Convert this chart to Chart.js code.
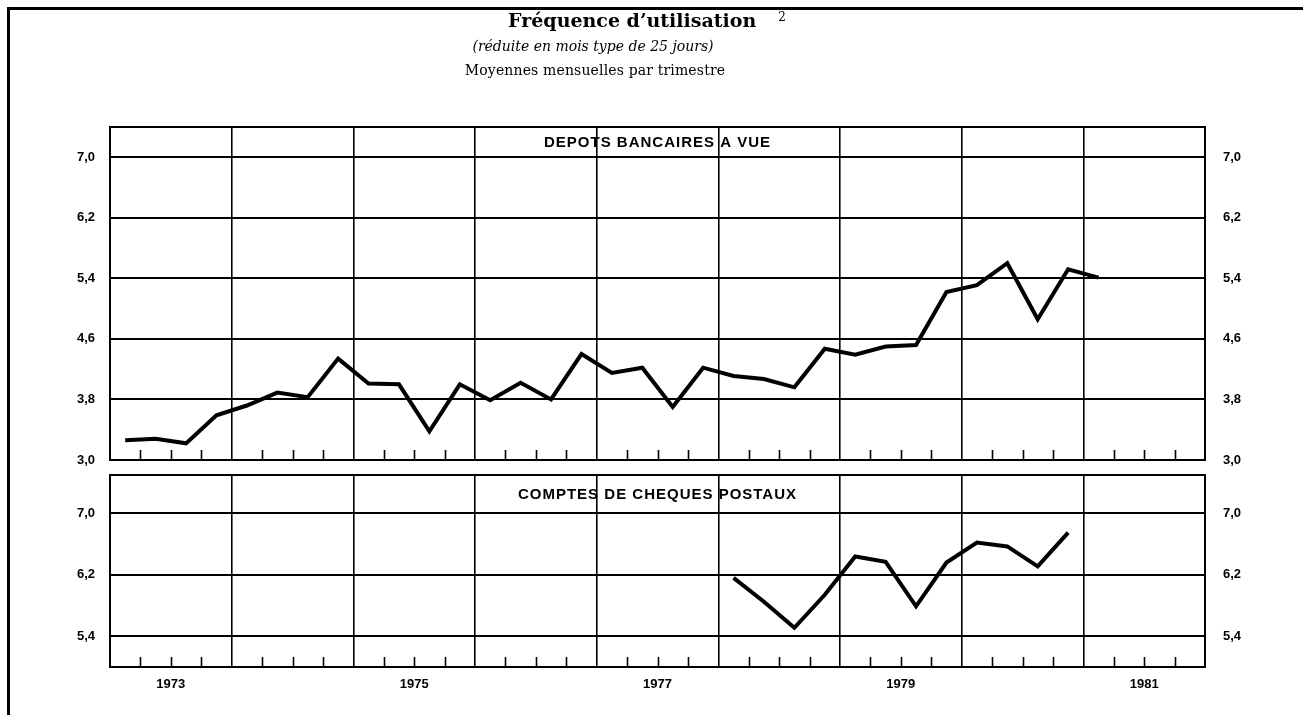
<!DOCTYPE html>
<html>
<head>
<meta charset="utf-8">
<script src="https://cdn.jsdelivr.net/npm/chart.js@4.4.0/dist/chart.umd.min.js"></script>
<style>
  body { margin: 0; background: #fff; }
  #page { position: relative; width: 1303px; height: 715px; overflow: hidden; background: #fff; }
  .cadre { position: absolute; left: 7px; top: 7px; width: 1320px; height: 730px;
           border-top: 3px solid #000; border-left: 3px solid #000; }
  canvas { position: absolute; left: 0; }
  .t { position: absolute; white-space: nowrap; color: #000; font-family: "DejaVu Serif", serif;
       transform: translateX(-50%); }
  #titre { left: 647px; top: 9px; font-size: 19px; font-weight: bold; }
  #titre sup { font-size: 12px; font-weight: normal; margin-left: 22px; position: relative; top: 1px; }
  #sous1 { left: 593px; top: 38px; font-size: 14px; font-style: italic; }
  #sous2 { left: 595px; top: 62px; font-size: 14px; letter-spacing: 0.15px; }
</style>
</head>
<body>
<div id="page">
  <div class="cadre"></div>
  <canvas id="depots" width="1303" height="470" style="top:0"></canvas>
  <canvas id="cheques" width="1303" height="245" style="top:470px"></canvas>
  <div class="t" id="titre">Fréquence d’utilisation<sup>2</sup></div>
  <div class="t" id="sous1">(réduite en mois type de 25 jours)</div>
  <div class="t" id="sous2">Moyennes mensuelles par trimestre</div>
</div>
<script>
// data, one value per quarter (4 per year), 1973 Q1 .. 1981 Q4
const annees = [1973, 1974, 1975, 1976, 1977, 1978, 1979, 1980, 1981];
const anneesAffichees = ['1973', '1975', '1977', '1979', '1981'];

const depotsBancaires = [
    3.26, 3.28, 3.22, 3.59,
    3.72, 3.89, 3.83, 4.34,
    4.01, 4.00, 3.38, 4.00,
    3.79, 4.02, 3.80, 4.40,
    4.15, 4.22, 3.70, 4.22,
    4.11, 4.07, 3.96, 4.47,
    4.39, 4.50, 4.52, 5.22,
    5.31, 5.60, 4.86, 5.52,
    5.41, null, null, null
];

const chequesPostaux = [
    null, null, null, null,
    null, null, null, null,
    null, null, null, null,
    null, null, null, null,
    null, null, null, null,
    6.16, 5.85, 5.51, 5.94,
    6.44, 6.37, 5.79, 6.36,
    6.62, 6.57, 6.31, 6.75,
    null, null, null, null
];

const graduationsDepots = [3.0, 3.8, 4.6, 5.4, 6.2, 7.0];
const graduationsCheques = [5.4, 6.2, 7.0];

const nbTrimestres = annees.length * 4;
const tickFont = { family: 'Liberation Sans', size: 13, weight: 'bold' };

// frame, quarter marks and panel name
const panneau = {
    id: 'panneau',
    afterDatasetsDraw(chart, args, opts) {
        const { ctx, chartArea: a, scales } = chart;
        ctx.save();
        ctx.strokeStyle = '#000';
        ctx.lineWidth = 1.6;
        for (let k = 1; k < nbTrimestres; k++) {
            if (k % 4 === 0) continue;
            const x = Math.round(scales.x.getPixelForValue(k)) + 0.5;
            ctx.beginPath();
            ctx.moveTo(x, a.bottom);
            ctx.lineTo(x, a.bottom - 10);
            ctx.stroke();
        }
        ctx.lineWidth = 2;
        ctx.strokeRect(a.left, a.top, a.right - a.left, a.bottom - a.top);

        const yLab = (a.top + scales.y.getPixelForValue(7.0)) / 2 + 1;
        ctx.fillStyle = '#000';
        ctx.font = 'bold 15px "Liberation Sans"';
        ctx.letterSpacing = '1px';
        ctx.textAlign = 'center';
        ctx.textBaseline = 'middle';
        ctx.fillText(opts.label, (a.left + a.right) / 2, yLab);
        ctx.restore();
    }
};

const virgule = (v) => v.toFixed(1).replace('.', ',');

// fixed axis width, and no extra room asked for the end labels
const fixeLargeur = (w) => (scale) => {
    scale.width = w;
    scale.paddingTop = 0;
    scale.paddingBottom = 0;
};

const makeChart = (id, serie, yMin, yMax, graduations, label, withYears, padTop, xHeight) => {
    const xTicks = [];
    for (let k = 0; k <= nbTrimestres; k += withYears ? 2 : 4) xTicks.push(k);

    return new Chart(document.getElementById(id), {
        type: 'line',
        data: {
            datasets: [{
                data: serie.map((v, i) => ({ x: i + 0.5, y: v })),
                borderColor: '#000',
                borderWidth: 4,
                pointRadius: 0,
                tension: 0,
                spanGaps: false
            }]
        },
        options: {
            responsive: false,
            animation: false,
            layout: { autoPadding: false, padding: { top: padTop, left: 0, right: 0, bottom: 0 } },
            plugins: {
                legend: { display: false },
                tooltip: { enabled: false },
                panneau: { label: label }
            },
            scales: {
                x: {
                    type: 'linear',
                    min: 0,
                    max: nbTrimestres,
                    afterBuildTicks: (scale) => { scale.ticks = xTicks.map(v => ({ value: v })); },
                    afterFit: (scale) => {
                        scale.height = xHeight;
                        scale.paddingLeft = 0;
                        scale.paddingRight = 0;
                    },
                    grid: {
                        drawTicks: false,
                        color: (c) => (c.tick && c.tick.value % 4 === 0) ? '#000' : 'rgba(0,0,0,0)',
                        lineWidth: 1.6
                    },
                    border: { display: false },
                    ticks: {
                        display: withYears,
                        autoSkip: false,
                        maxRotation: 0,
                        padding: 10,
                        color: '#000',
                        font: tickFont,
                        callback: (v) => {
                            if (v % 4 !== 2) return '';
                            const an = String(annees[Math.floor(v / 4)]);
                            return anneesAffichees.includes(an) ? an : '';
                        }
                    }
                },
                y: {
                    position: 'left',
                    min: yMin,
                    max: yMax,
                    afterBuildTicks: (scale) => { scale.ticks = graduations.map(v => ({ value: v })); },
                    afterFit: fixeLargeur(110),
                    grid: { drawTicks: false, color: '#000', lineWidth: 2 },
                    border: { display: false },
                    ticks: { padding: 15, color: '#000', font: tickFont, callback: virgule }
                },
                y2: {
                    position: 'right',
                    min: yMin,
                    max: yMax,
                    afterBuildTicks: (scale) => { scale.ticks = graduations.map(v => ({ value: v })); },
                    afterFit: fixeLargeur(98),
                    grid: { drawTicks: false, drawOnChartArea: false },
                    border: { display: false },
                    ticks: { padding: 18, color: '#000', font: tickFont, callback: virgule }
                }
            }
        },
        plugins: [panneau]
    });
};

const depotsChart = makeChart('depots', depotsBancaires, 3.0, 7.4, graduationsDepots,
    'DEPOTS BANCAIRES A VUE', false, 127, 10);
const chequesChart = makeChart('cheques', chequesPostaux, 5.0, 7.5, graduationsCheques,
    'COMPTES DE CHEQUES POSTAUX', true, 5, 48);
</script>
</body>
</html>
